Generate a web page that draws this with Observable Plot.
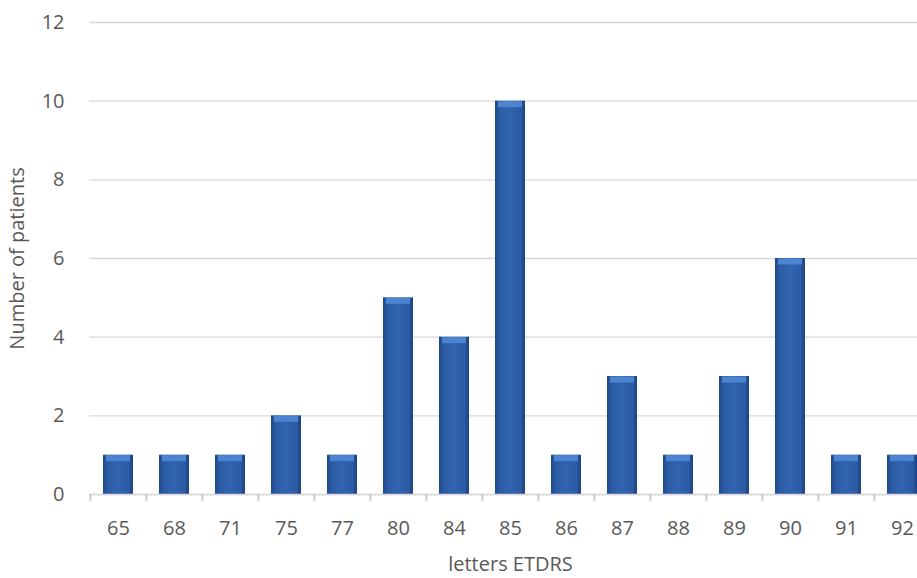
<!DOCTYPE html>
<html><head><meta charset="utf-8">
<script src="https://cdn.jsdelivr.net/npm/d3@7"></script>
<script src="https://cdn.jsdelivr.net/npm/@observablehq/plot@0.6"></script>
<style>
html,body{margin:0;padding:0;background:#fff;overflow:hidden;}
#chart{width:917px;height:578px;overflow:hidden;}
#chart svg text{font-size:20px;}
</style>
</head><body><div id="chart"></div>
<script>
const categories = ["65","68","71","75","77","80","84","85","86","87","88","89","90","91","92"];
const patients = [1,1,1,2,1,5,4,10,1,3,1,3,6,1,1];
const yTicks = [0,2,4,6,8,10,12];
const xTitle = "letters ETDRS";
const yTitle = "Number of patients";

const data = categories.map((c,i)=>({letters:c, n:patients[i]}));
const W = 917, H = 578, ML = 89, MR = -14, MT = 22, MB = 84;
const step = (W - ML - MR) / categories.length;

const chart = Plot.plot({
  width: W, height: H,
  marginLeft: ML, marginRight: MR, marginTop: MT, marginBottom: MB,
  style: {fontFamily: "'Open Sans', 'Noto Sans', sans-serif", fontSize: "20px", color: "#595959", background: "#fff"},
  x: {domain: categories, paddingInner: 0.46, paddingOuter: 0.23},
  y: {domain: [0, 12]},
  marks: [
    Plot.gridY(yTicks, {stroke: "#d9d9d9", strokeOpacity: 1, strokeWidth: 1.3}),
    Plot.barY(data, {x: "letters", y: "n", fill: "url(#barGrad)"}),
    Plot.tickY(data, {x: "letters", y: "n", stroke: "#4c84cf", strokeWidth: 6, dy: 3, insetLeft: 3, insetRight: 3}),
    Plot.ruleY([0], {stroke: "#d9d9d9", strokeWidth: 1.5}),
    Plot.ruleX(categories, {x: d => d, y1: 0, y2: -0.18, dx: -step/2, stroke: "#c8c8c8", strokeWidth: 1.8}),
    Plot.axisY(yTicks, {tickSize: 0, tickPadding: 25, label: yTitle, labelAnchor: "center", labelArrow: "none", labelOffset: 80, fill: "#595959", fontSize: 20}),
    Plot.axisX({tickSize: 0, tickPadding: 26, label: xTitle, labelAnchor: "center", labelArrow: "none", labelOffset: 76, fill: "#595959", fontSize: 20})
  ]
});

const ns = "http://www.w3.org/2000/svg";
const defs = document.createElementNS(ns, "defs");
defs.innerHTML = `
<linearGradient id="barGrad" x1="0" x2="1" y1="0" y2="0">
  <stop offset="0" stop-color="#1d4688"/>
  <stop offset="0.15" stop-color="#2c5ba4"/>
  <stop offset="0.5" stop-color="#3164b0"/>
  <stop offset="0.85" stop-color="#2c5ba4"/>
  <stop offset="1" stop-color="#1b4282"/>
</linearGradient>`;
chart.insertBefore(defs, chart.firstChild);
document.getElementById("chart").appendChild(chart);
</script>
</body></html>
